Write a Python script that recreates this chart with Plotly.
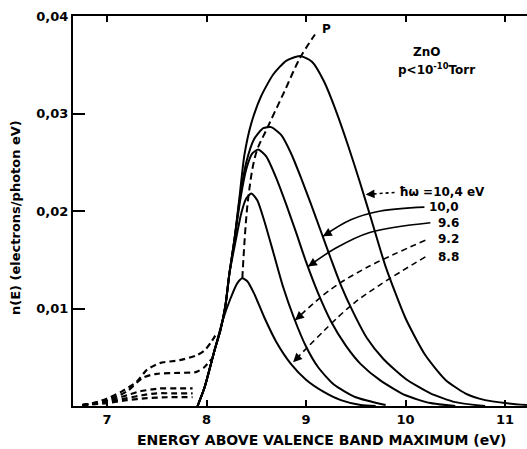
import math
import plotly.graph_objects as go

# Photoelectron energy distributions n(E) for ZnO at several photon energies
PHOTON_LABELS = ["ħω =10,4 eV", "10,0", "9.6", "9.2", "8.8"]

# solid (main) part of each distribution: energy (eV) and n(E)
E_104 = [7.91, 7.98, 8.08, 8.14, 8.19, 8.23, 8.28, 8.33, 8.38, 8.45, 8.55, 8.67, 8.80, 8.94,
         9.06, 9.18, 9.30, 9.42, 9.54, 9.66, 9.80, 10.0, 10.2, 10.4, 10.6, 10.8, 11.0, 11.22]
N_104 = [0.0, 0.0019, 0.0057, 0.0078, 0.0103, 0.0136, 0.0170, 0.0213, 0.0257, 0.0290, 0.0318,
         0.0340, 0.0354, 0.0359, 0.0353, 0.0333, 0.0303, 0.0268, 0.0230, 0.0190, 0.0143, 0.0090,
         0.0052, 0.0027, 0.0013, 0.0006, 0.0003, 0.0001]

E_100 = [7.91, 7.98, 8.08, 8.14, 8.19, 8.23, 8.28, 8.33, 8.40, 8.48, 8.57, 8.65, 8.75, 8.85,
         8.95, 9.05, 9.15, 9.25, 9.35, 9.47, 9.61, 9.78, 10.0, 10.25, 10.5, 10.8]
N_100 = [0.0, 0.0019, 0.0057, 0.0078, 0.0103, 0.0136, 0.0170, 0.0210, 0.0250, 0.0274, 0.0285,
         0.0286, 0.0278, 0.0259, 0.0234, 0.0207, 0.0179, 0.0151, 0.0124, 0.0097, 0.0070, 0.0048,
         0.0028, 0.0013, 0.0004, 0.0]

E_96 = [7.91, 7.98, 8.08, 8.14, 8.19, 8.23, 8.28, 8.34, 8.40, 8.46, 8.52, 8.60, 8.70, 8.80,
        8.90, 9.00, 9.12, 9.25, 9.40, 9.55, 9.75, 10.0, 10.25, 10.5]
N_96 = [0.0, 0.0019, 0.0057, 0.0078, 0.0103, 0.0136, 0.0170, 0.0212, 0.0243, 0.0259, 0.0263,
        0.0256, 0.0234, 0.0207, 0.0178, 0.0148, 0.0116, 0.0087, 0.0062, 0.0043, 0.0026, 0.0011,
        0.0003, 0.0]

E_92 = [7.91, 7.98, 8.08, 8.14, 8.19, 8.23, 8.29, 8.35, 8.40, 8.45, 8.51, 8.58, 8.67, 8.77,
        8.88, 9.00, 9.12, 9.28, 9.50, 9.8]
N_92 = [0.0, 0.0019, 0.0057, 0.0078, 0.0103, 0.0136, 0.0168, 0.0198, 0.0213, 0.0218, 0.0211,
        0.0190, 0.0158, 0.0122, 0.0090, 0.0061, 0.0040, 0.0022, 0.0009, 0.0001]

E_88 = [7.91, 7.98, 8.08, 8.16, 8.24, 8.31, 8.36, 8.41, 8.48, 8.58, 8.70, 8.85, 9.0, 9.17,
        9.35, 9.55, 9.7]
N_88 = [0.0, 0.0019, 0.0057, 0.0087, 0.0110, 0.0126, 0.0131, 0.0128, 0.0115, 0.0091, 0.0066,
        0.0043, 0.0027, 0.0015, 0.0006, 0.0001, 0.0]

# dashed low-energy tails
TAIL_E_104 = [6.75, 6.9, 7.03, 7.15, 7.30, 7.40, 7.53, 7.73, 7.90, 7.98, 8.05, 8.11]
TAIL_N_104 = [0.0001, 0.0004, 0.0009, 0.0015, 0.0025, 0.0037, 0.0044, 0.0047, 0.0052, 0.0057,
              0.0066, 0.0076]
TAIL_E_100 = [6.75, 7.0, 7.2, 7.36, 7.50, 7.73, 7.90, 7.98, 8.05]
TAIL_N_100 = [0.0001, 0.0006, 0.0015, 0.0029, 0.0033, 0.0034, 0.0035, 0.0040, 0.0048]
TAIL_E_96 = [6.75, 7.0, 7.2, 7.33, 7.45, 7.53, 7.7, 7.86]
TAIL_N_96 = [0.0001, 0.0005, 0.0011, 0.0015, 0.0017, 0.0018, 0.0018, 0.0018]
TAIL_E_92 = [6.75, 7.0, 7.2, 7.35, 7.5, 7.7, 7.86]
TAIL_N_92 = [0.0001, 0.0004, 0.0008, 0.0011, 0.0013, 0.0013, 0.0013]
TAIL_E_88 = [6.75, 7.0, 7.2, 7.4, 7.6, 7.86]
TAIL_N_88 = [0.0001, 0.0003, 0.0006, 0.0008, 0.0009, 0.0009]

# locus of the peaks, labelled P
P_E = [8.36, 8.42, 8.50, 8.61, 8.78, 8.94, 9.09]
P_N = [0.0131, 0.0214, 0.0260, 0.0285, 0.0322, 0.0357, 0.0381]

# leader lines from the photon-energy labels to their curves (last point = arrow tip)
LEAD_E = [[9.89, 9.60],
          [10.19, 9.75, 9.45, 9.17],
          [10.25, 9.64, 9.30, 9.02],
          [10.20, 9.61, 9.24, 8.89],
          [10.20, 9.74, 9.44, 8.87]]
LEAD_N = [[0.0219, 0.0217],
          [0.0204, 0.0200, 0.0191, 0.0174],
          [0.0188, 0.0178, 0.0162, 0.0143],
          [0.0170, 0.0142, 0.0119, 0.0088],
          [0.0153, 0.0124, 0.0102, 0.0045]]
LEAD_DASH = ["3px,3px", "solid", "solid", "6px,4px", "6px,4px"]
LABEL_POS = [(9.91, 0.0220), (10.22, 0.0204), (10.31, 0.0188), (10.31, 0.0171), (10.31, 0.0153)]

X_TICKS = [7, 8, 9, 10, 11]
Y_TICKS = [0.01, 0.02, 0.03, 0.04]
Y_TICK_TEXT = ["0,01", "0,02", "0,03", "0,04"]

X_RANGE = [6.658, 11.221]
Y_RANGE = [0, 0.04]
PLOT_W, PLOT_H = 454, 390  # plotting area in px (used to orient arrowheads)

FONT = "DejaVu Sans"
INK = "black"

fig = go.Figure()

mains = [(E_104, N_104), (E_100, N_100), (E_96, N_96), (E_92, N_92), (E_88, N_88)]
tails = [(TAIL_E_104, TAIL_N_104), (TAIL_E_100, TAIL_N_100), (TAIL_E_96, TAIL_N_96),
         (TAIL_E_92, TAIL_N_92), (TAIL_E_88, TAIL_N_88)]

for (e, n) in mains:
    fig.add_trace(go.Scatter(x=e, y=n, mode="lines", cliponaxis=False,
                             line=dict(color=INK, width=2, shape="spline", smoothing=0.6),
                             hoverinfo="skip", showlegend=False))
for (e, n) in tails:
    fig.add_trace(go.Scatter(x=e, y=n, mode="lines", cliponaxis=False,
                             line=dict(color=INK, width=2.2, dash="6px,4px", shape="spline",
                                       smoothing=0.7),
                             hoverinfo="skip", showlegend=False))

fig.add_trace(go.Scatter(x=P_E, y=P_N, mode="lines",
                         line=dict(color=INK, width=2, dash="7px,4px", shape="spline"),
                         hoverinfo="skip", showlegend=False))

sx = PLOT_W / (X_RANGE[1] - X_RANGE[0])
sy = PLOT_H / (Y_RANGE[1] - Y_RANGE[0])
for e, n, dash in zip(LEAD_E, LEAD_N, LEAD_DASH):
    fig.add_trace(go.Scatter(x=e, y=n, mode="lines",
                             line=dict(color=INK, width=1.6, dash=dash, shape="spline"),
                             hoverinfo="skip", showlegend=False))
    # arrowhead at the curve end of each leader, pointing along the leader
    dx = (e[-2] - e[-1]) * sx
    dy = -(n[-2] - n[-1]) * sy
    length = math.hypot(dx, dy)
    fig.add_annotation(x=e[-1], y=n[-1], ax=10 * dx / length, ay=10 * dy / length,
                       xref="x", yref="y", text="", showarrow=True, arrowhead=2,
                       arrowsize=1.1, arrowwidth=1.6, arrowcolor=INK, standoff=0)

for text, (x, y) in zip(PHOTON_LABELS, LABEL_POS):
    fig.add_annotation(x=x, y=y, text=text, showarrow=False, xanchor="left", yanchor="middle",
                       font=dict(family=FONT, size=12, color=INK, weight="bold"))

fig.add_annotation(x=9.14, y=0.0387, text="P", showarrow=False, xanchor="left",
                   yanchor="middle", font=dict(family=FONT, size=12, color=INK, weight="bold"))
fig.add_annotation(x=10.21, y=0.0363, text="ZnO", showarrow=False, xanchor="center",
                   yanchor="middle", font=dict(family=FONT, size=12, color=INK, weight="bold"))
fig.add_annotation(x=10.31, y=0.0346, text="p&lt;10<sup>-10</sup>Torr", showarrow=False,
                   xanchor="center", yanchor="middle",
                   font=dict(family=FONT, size=12, color=INK, weight="bold"))

fig.add_annotation(xref="paper", yref="paper", x=(321.5 - 73) / 454, y=-(440 - 406) / 390,
                   text="ENERGY ABOVE VALENCE BAND MAXIMUM (eV)", showarrow=False,
                   xanchor="center", yanchor="middle",
                   font=dict(family=FONT, size=14, color=INK, weight="bold"))
fig.add_annotation(xref="paper", yref="paper", x=-(73 - 16) / 454, y=(406 - 218) / 390,
                   text="n(E) (electrons/photon eV)", showarrow=False, textangle=-90,
                   xanchor="center", yanchor="middle",
                   font=dict(family=FONT, size=13, color=INK, weight="bold"))

fig.update_layout(
    width=527, height=449, autosize=False,
    margin=dict(l=73, r=0, t=16, b=43),
    paper_bgcolor="white", plot_bgcolor="white",
    xaxis=dict(range=X_RANGE, tickvals=X_TICKS, ticks="inside", ticklen=6,
               tickwidth=2, tickcolor=INK, showline=True, linecolor=INK, linewidth=2,
               mirror="ticks", showgrid=False, zeroline=False,
               tickfont=dict(family=FONT, size=13, color=INK, weight="bold")),
    yaxis=dict(range=Y_RANGE, tickvals=Y_TICKS, ticktext=Y_TICK_TEXT, ticks="inside",
               ticklen=12, tickwidth=2, tickcolor=INK, showline=True, linecolor=INK,
               linewidth=2, showgrid=False, zeroline=False,
               tickfont=dict(family=FONT, size=13, color=INK, weight="bold")),
)

fig.write_html("out.html")
